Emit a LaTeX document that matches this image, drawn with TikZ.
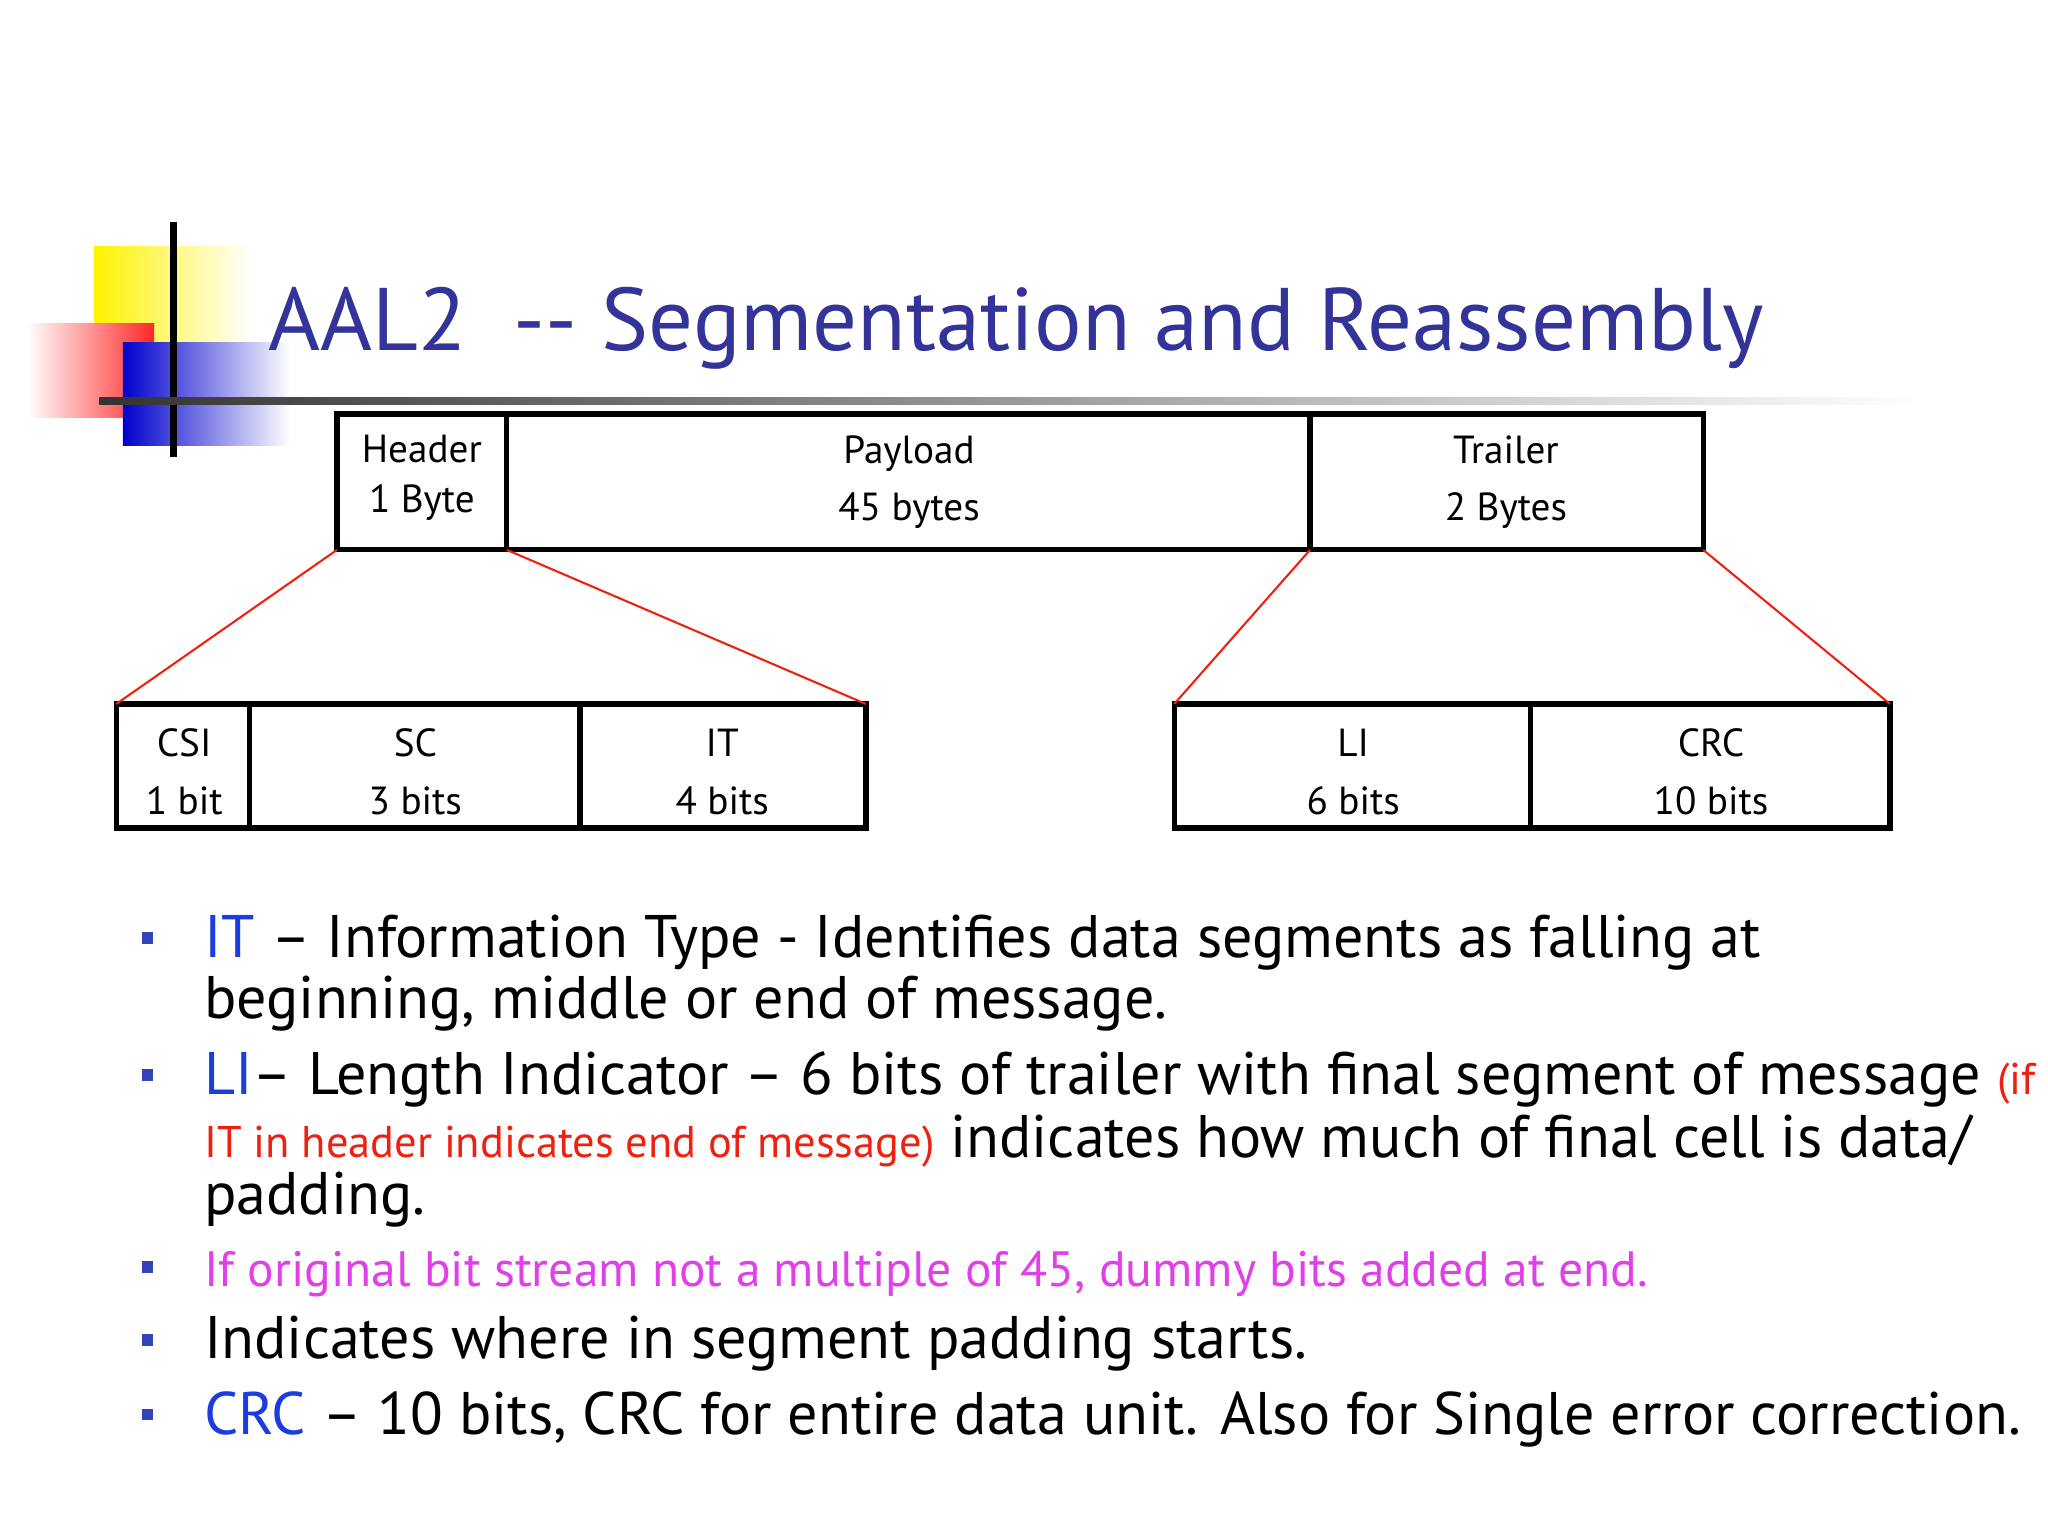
\documentclass[tikz,border=0pt]{standalone}
\usepackage{fontspec}
\setmainfont{PT Sans}
\definecolor{ttl}{HTML}{333399}
\definecolor{bl}{HTML}{1A3CE0}
\definecolor{rd}{HTML}{F02010}
\definecolor{pk}{HTML}{E040E8}
\definecolor{bul}{HTML}{3344BB}
\begin{document}
\begin{tikzpicture}[x=0.5pt,y=-0.5pt,
  box/.style={draw,line width=2pt},
  zl/.style={draw=rd,line width=0.8pt},
  bt/.style={font=\fontsize{15}{19}\selectfont,align=center,inner sep=0},
  tx/.style={anchor=base west,inner sep=0,font=\fontsize{23}{23}\selectfont},
  bu/.style={fill=bul,minimum size=4.5pt,inner sep=0}]
\useasboundingbox (0,0) rectangle (1568,1176);
% decoration
\shade[left color=yellow!90!orange,right color=white] (72,189) rectangle (192,300);
\shade[left color=white,right color=red!85] (21,248) rectangle (118,320);
\shade[left color=blue!80!black,right color=white] (94,262) rectangle (222,341);
\draw[line width=2.5pt] (133,170) -- (133,350);
\shade[left color=black!80,right color=white] (76,304) rectangle (1470,310);
\node[anchor=base west,inner sep=0,text=ttl,font=\fontsize{34}{34}\selectfont] (title) at (205,268) {AAL2\ \ {-}{-} Segmentation and Reassembly};
% top box
\draw[box] (258,317) rectangle (1304,421);
\draw[box] (388,317) -- (388,421) (1003,317)--(1003,421);
\coordinate (h1) at (258,421); \coordinate (h2) at (388,421);
\coordinate (t1) at (1003,421); \coordinate (t2) at (1304,421);
\node[bt] (hd) at (323,366) {Header\\1 Byte};
\node[bt] (pl) at (696,369) {Payload\\[3pt]45 bytes};
\node[bt] (tr) at (1153,369) {Trailer\\[3pt]2 Bytes};
% left box
\draw[box] (89,539) rectangle (663,634);
\draw[box] (191,539)--(191,634) (444,539)--(444,634);
\coordinate (l1) at (89,539); \coordinate (l2) at (663,539);
\node[bt] (csi) at (141,591) {CSI\\[3pt]1 bit};
\node[bt] (sc) at (318,591) {SC\\[3pt]3 bits};
\node[bt] (it) at (553,591) {IT\\[3pt]4 bits};
% right box
\draw[box] (899,539) rectangle (1447,634);
\draw[box] (1172,539)--(1172,634);
\coordinate (r1) at (899,539); \coordinate (r2) at (1447,539);
\node[bt] (li) at (1036,591) {LI\\[3pt]6 bits};
\node[bt] (crc) at (1310,591) {CRC\\[3pt]10 bits};
\draw[zl] (h1)--(l1) (h2)--(l2) (t1)--(r1) (t2)--(r2);
% bullets
\node[bu] (b1) at (113,718) {}; \node[bu] (b2) at (113,823) {};
\node[bu] (b3) at (113,970) {}; \node[bu] (b4) at (113,1026) {};
\node[bu] (b5) at (113,1083) {};
\node[tx] (x1) at (156,733) {\textcolor{bl}{IT} – Information Type - Identifies data segments as falling at};
\node[tx] (x2) at (156,780) {beginning, middle or end of message.};
\node[tx] (x3) at (156,838) {\textcolor{bl}{LI}– Length Indicator – 6 bits of trailer with final segment of message \textcolor{rd}{\fontsize{17}{17}\selectfont(if}};
\node[tx] (x4) at (156,886) {\textcolor{rd}{\fontsize{17}{17}\selectfont IT in header indicates end of message)} indicates how much of final cell is data/};
\node[tx] (x5) at (156,930) {padding.};
\node[tx,text=pk,font=\fontsize{19}{19}\selectfont] (x6) at (156,985) {If original bit stream not a multiple of 45, dummy bits added at end.};
\node[tx] (x7) at (156,1040) {Indicates where in segment padding starts.};
\node[tx] (x8) at (156,1098) {\textcolor{bl}{CRC} – 10 bits, CRC for entire data unit. Also for Single error correction.};
\end{tikzpicture}
\end{document}
